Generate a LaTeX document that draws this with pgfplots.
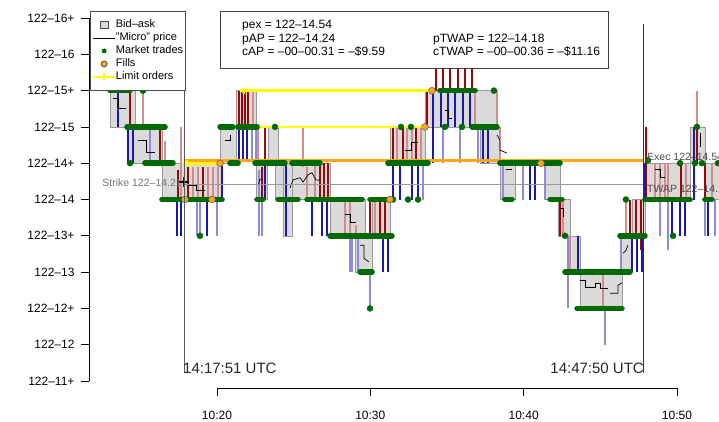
\documentclass[border=0pt]{standalone}
\usepackage{fontspec}
\setmainfont{Liberation Sans}
\usepackage{pgfplots}
\usepackage{pgfplotstable}
\pgfplotsset{compat=1.18}
\definecolor{dred}{RGB}{150,10,10}
\definecolor{lred}{RGB}{210,140,140}
\definecolor{dblue}{RGB}{25,25,170}
\definecolor{lblue}{RGB}{140,140,220}
\definecolor{dgreen}{RGB}{0,105,0}
\definecolor{boxgray}{RGB}{218,218,218}
\definecolor{lorange}{RGB}{255,168,20}
\definecolor{lyellow}{RGB}{255,255,0}

% red bars: time (min after 10:00), from, to (32nds above 122)
\pgfplotstableread{
x lo hi
14.33 15.0 15.5
16.28 14.5 15.0
17.46 14.0 14.40
18.11 14.0 14.45
19.09 14.0 14.45
21.43 15.0 15.5
21.63 15.0 15.5
21.82 15.0 15.5
22.02 15.0 15.5
22.93 14.0 14.45
23.13 14.5 14.98
26.72 14.0 14.5
26.98 14.0 14.5
27.24 14.0 14.5
29.98 13.5 14.0
30.63 13.5 14.0
30.96 13.5 14.0
31.48 14.5 15.0
32.13 14.5 15.0
32.98 14.5 15.0
33.69 15.0 15.5
34.28 15.5 16.0
34.74 15.5 16.0
35.20 15.5 16.0
35.72 15.5 16.0
36.17 15.5 16.0
36.63 15.5 16.0
42.37 13.5 14.0
46.93 13.5 14.0
47.32 13.5 14.0
47.65 13.3 14.0
47.98 14.0 15.0
50.26 14.0 14.5
51.30 14.5 15.0
51.82 14.0 14.5
}\tblDR
\pgfplotstableread{
x lo hi
15.17 15.0 15.5
16.61 14.5 14.8
17.65 14.0 15.0
18.43 14.0 14.45
18.76 14.0 14.45
19.41 14.0 14.45
19.74 14.0 14.45
20.07 14.0 14.45
22.35 15.0 15.5
22.67 14.5 15.0
25.61 14.45 14.98
25.87 14.0 14.45
26.39 14.0 14.5
28.35 13.5 14.0
28.67 13.5 14.0
29.07 13.45 13.65
30.30 13.5 14.0
31.74 14.5 15.0
32.39 14.5 15.0
32.72 14.5 15.0
33.30 14.5 15.0
36.83 15.0 15.5
38.26 15.0 15.5
38.45 14.5 15.0
42.56 13.5 14.0
43.02 13.0 13.5
45.17 12.5 13.0
46.67 13.5 14.0
48.56 14.0 14.5
48.89 14.0 14.5
49.22 14.0 14.5
49.41 14.0 14.5
50.59 14.0 14.5
51.30 15.0 15.5
52.28 14.0 14.5
}\tblLR
\pgfplotstableread{
x lo hi
13.54 15.0 15.48
14.19 14.5 15.0
14.52 14.5 15.0
17.39 13.5 14.0
17.65 13.5 14.0
19.35 13.5 14.0
20.33 14.0 14.5
21.43 14.55 15.0
21.69 14.55 15.0
21.95 14.55 15.0
23.13 14.0 14.5
24.50 13.5 14.5
26.19 13.5 14.0
26.85 13.5 14.0
27.17 13.5 14.0
30.82 13.0 13.5
31.15 13.0 13.5
31.48 14.0 14.5
31.93 14.0 14.5
32.72 14.0 14.5
33.11 14.0 14.5
34.08 14.5 15.5
34.61 15.0 15.5
35.06 15.0 15.5
35.52 15.0 15.5
36.04 15.0 15.5
36.50 15.0 15.5
37.35 14.5 15.0
37.67 14.5 15.0
40.41 14.0 14.5
40.74 14.0 14.5
43.54 13.0 13.5
47.07 13.0 13.5
47.39 13.0 13.5
47.72 13.0 13.5
47.91 14.0 14.5
49.67 13.5 14.0
50.20 13.5 14.0
50.52 13.5 14.0
51.11 14.0 15.0
52.02 13.5 14.0
}\tblDB
\pgfplotstableread{
x lo hi
15.63 14.5 15.0
18.69 13.5 14.0
18.89 13.5 14.0
20.00 13.5 14.0
22.28 14.55 15.0
22.54 14.55 15.0
22.74 13.5 14.4
22.93 13.5 14.0
28.67 13.0 13.5
28.80 13.0 13.5
29.20 13.0 13.5
29.98 12.5 13.0
33.43 14.0 14.5
34.74 14.5 15.0
35.85 14.5 15.0
37.02 14.5 15.0
38.65 14.0 14.5
39.96 14.0 14.5
41.39 14.0 14.5
42.89 12.5 13.5
45.30 12.0 12.5
46.35 13.0 13.5
48.89 13.5 14.0
49.41 13.3 14.0
51.82 13.5 14.5
52.48 13.5 14.0
}\tblLB
% runs of market trades: from, to, price
\pgfplotstableread{
x1 x2 y
13.02 14.33 15.5
14.13 16.61 15.0
15.30 17.13 14.5
16.41 20.33 14.0
20.20 21.04 15.0
21.37 22.61 15.0
20.85 21.37 14.5
22.48 24.43 14.5
24.89 26.72 14.5
22.61 23.00 14.0
23.98 25.28 14.0
25.87 29.46 14.0
29.98 31.28 14.0
27.37 31.41 13.5
29.33 30.11 13.0
31.15 33.76 14.5
34.54 36.83 15.5
36.63 38.26 15.0
38.45 42.37 14.5
38.78 39.24 14.0
41.72 42.50 14.0
42.70 46.93 13.0
43.48 46.41 12.5
46.28 47.91 13.5
47.91 50.85 14.0
51.82 52.28 14.0
}\tblRun
\pgfplotstableread{
x y
15.17 15.5
14.33 14.5
18.89 13.5
23.78 15.0
29.98 12.5
32.00 15.0
32.65 15.0
31.48 14.0
32.46 14.0
33.11 14.0
38.06 15.5
34.87 15.0
35.98 15.0
42.70 13.5
46.67 14.0
48.11 14.54
49.74 13.5
50.20 14.5
51.17 14.5
51.63 14.5
52.67 14.5
51.30 15.0
}\tblDot

\newcommand\bx[4]{\addplot[forget plot, fill=boxgray, draw=black!40, line width=0.5pt] coordinates {(#1,#3) (#2,#3) (#2,#4) (#1,#4) (#1,#3)};}
\pgfplotsset{
  vbar/.style 2 args={draw=none, mark=none, mark size=0pt, forget plot,
    error bars/.cd, y dir=plus, y explicit, error mark=none,
    error bar style={draw=#1, line width=#2}},
}

\begin{document}
\begin{tikzpicture}[x=1pt,y=1pt]
\begin{axis}[
  at={(0,0)}, anchor=south west,
  scale only axis, width=630pt, height=388pt,
  xmin=11.652, xmax=52.74, ymin=11.404, ymax=16.748,
  clip mode=individual,
  axis line style={draw=none},
  tick pos=left, tick align=outside,
  major tick length=8pt,
  tick style={black, line width=0.8pt},
  xtick={20,30,40,50}, xticklabels={10:20,10:30,10:40,10:50},
  ytick={11.5,12,12.5,13,13.5,14,14.5,15,15.5,16,16.5},
  yticklabels={122–11+,122–12,122–12+,122–13,122–13+,122–14,122–14+,122–15,122–15+,122–16,122–16+},
  yticklabel style={font=\fontsize{12}{14}\selectfont, xshift=-3pt},
  xticklabel style={font=\fontsize{12}{14}\selectfont, yshift=-12pt},
  legend image code/.code={\draw[mark repeat=2, mark phase=2, #1] plot coordinates {(0pt,0pt) (11pt,0pt) (22pt,0pt)};},
  legend style={at={(0.0016,0.9716)}, anchor=north west, draw=black!70, line width=0.8pt,
    font=\fontsize{11}{12}\selectfont, inner xsep=2pt, inner ysep=8pt,
    nodes={inner sep=0pt, text height=8.5pt, text depth=2.5pt}, row sep=2pt,
    /tikz/every even column/.append style={column sep=9pt}},
  legend cell align=left,
]
\addlegendimage{only marks, mark=square*, mark size=3.8pt, mark options={fill=boxgray, draw=black!70}}
\addlegendimage{black, line width=0.8pt}
\addlegendimage{only marks, mark=*, mark size=2pt, dgreen}
\addlegendimage{only marks, mark=*, mark size=3pt, mark options={fill=lorange, draw=black!70}}
\addlegendimage{lyellow, line width=1.5pt, mark=+, mark size=3.5pt}
\legend{Bid–ask,"Micro" price,Market trades,Fills,Limit orders}

% bid-ask boxes
\bx{13.02}{14.65}{15.0}{15.5}
\bx{14.13}{16.41}{14.5}{15.0}
\bx{16.41}{20.33}{14.0}{14.5}
\bx{20.20}{21.24}{14.5}{15.0}
\bx{21.24}{22.54}{15.0}{15.5}
\bx{22.54}{23.30}{14.0}{14.5}
\bx{23.32}{23.98}{14.5}{15.0}
\bx{23.80}{24.43}{14.0}{14.5}
\bx{24.30}{24.89}{13.5}{14.5}
\bx{24.89}{27.37}{14.0}{14.5}
\bx{27.37}{29.65}{13.5}{14.0}
\bx{29.00}{30.11}{13.0}{13.5}
\bx{30.11}{31.28}{13.5}{14.0}
\bx{31.28}{33.56}{14.5}{15.0}
\bx{33.56}{34.08}{15.0}{15.5}
\bx{34.08}{36.83}{15.0}{15.5}
\bx{36.83}{38.26}{15.0}{15.5}
\bx{37.15}{38.45}{14.5}{15.0}
\bx{38.45}{39.43}{14.0}{14.5}
\bx{41.39}{42.37}{14.0}{14.5}
\bx{42.24}{43.02}{13.5}{14.0}
\bx{42.82}{43.67}{13.0}{13.5}
\bx{43.67}{46.41}{12.5}{13.0}
\bx{46.28}{47.07}{13.0}{13.5}
\bx{47.07}{47.91}{13.5}{14.0}
\bx{47.91}{50.85}{14.0}{14.5}
\bx{50.85}{51.82}{14.5}{15.0}
\bx{51.82}{52.74}{14.0}{14.5}

% bid / ask size bars
\addplot[vbar={lred}{1.6pt}] table[x=x, y=lo, y error plus expr=\thisrow{hi}-\thisrow{lo}] {\tblLR};
\addplot[vbar={lblue}{1.6pt}] table[x=x, y=lo, y error plus expr=\thisrow{hi}-\thisrow{lo}] {\tblLB};
\addplot[vbar={dred}{2.4pt}] table[x=x, y=lo, y error plus expr=\thisrow{hi}-\thisrow{lo}] {\tblDR};
\addplot[vbar={dblue}{2.4pt}] table[x=x, y=lo, y error plus expr=\thisrow{hi}-\thisrow{lo}] {\tblDB};

% "micro" price
\addplot[forget plot, black, line width=0.7pt] coordinates {(13.22,15.40) (13.54,15.40) (13.54,15.26) (14.06,15.26)};
\addplot[forget plot, black, line width=0.7pt] coordinates {(14.85,14.82) (15.37,14.82) (15.37,14.65) (15.95,14.65)};
\addplot[forget plot, black, line width=0.7pt] coordinates {(18.11,14.20) (18.63,14.20) (18.63,14.13) (19.22,14.13)};
\addplot[forget plot, black, line width=0.7pt] coordinates {(20.52,14.82) (20.85,14.82) (20.85,14.89)};
\addplot[forget plot, black, line width=0.7pt] coordinates {(22.70,14.20) (22.80,14.28) (22.95,14.28)};
\addplot[forget plot, black, line width=0.7pt] coordinates {(24.76,14.16) (24.96,14.27) (25.41,14.30) (25.61,14.24) (25.93,14.34) (26.19,14.37) (26.45,14.27) (26.72,14.27)};
\addplot[forget plot, black, line width=0.7pt] coordinates {(28.35,13.79) (28.67,13.79) (28.67,13.69) (29.07,13.69)};
\addplot[forget plot, black, line width=0.7pt] coordinates {(29.33,13.37) (29.59,13.37) (29.59,13.19) (29.91,13.14)};
\addplot[forget plot, black, line width=0.7pt] coordinates {(32.26,14.68) (32.65,14.68) (32.65,14.79) (33.11,14.79)};
\addplot[forget plot, black, line width=0.7pt] coordinates {(34.87,15.23) (35.06,15.23) (35.06,15.12) (35.32,15.12)};
\addplot[forget plot, black, line width=0.7pt] coordinates {(38.26,14.89) (38.45,14.82) (38.45,14.68) (38.91,14.64)};
\addplot[forget plot, black, line width=0.7pt] coordinates {(38.85,14.41) (39.24,14.41)};
\addplot[forget plot, black, line width=0.7pt] coordinates {(42.37,13.88) (42.56,13.88) (42.56,13.76)};
\addplot[forget plot, black, line width=0.7pt] coordinates {(43.67,12.89) (44.00,12.89) (44.00,12.79) (44.65,12.79) (44.65,12.85) (44.98,12.85) (44.98,12.77) (45.50,12.77)};
\addplot[forget plot, black, line width=0.7pt] coordinates {(45.63,12.71) (46.15,12.71) (46.15,12.82) (46.41,12.85)};
\addplot[forget plot, black, line width=0.7pt] coordinates {(46.48,13.26) (46.67,13.30) (46.80,13.37)};
\addplot[forget plot, black, line width=0.7pt] coordinates {(48.56,14.41) (48.89,14.41) (48.89,14.30) (49.22,14.30)};
\addplot[forget plot, black, line width=0.7pt] coordinates {(51.50,14.92) (51.50,14.72)};

% strike and execution price lines
\addplot[forget plot, black!40, line width=0.7pt] coordinates {(17.85,14.21) (47.833,14.21)};
\addplot[forget plot, lorange, line width=3pt] coordinates {(17.85,14.54) (47.833,14.54)};
% limit orders
\addplot[forget plot, lyellow, line width=2.6pt] coordinates {(17.85,14.5) (20.20,14.5)};
\addplot[forget plot, lyellow, line width=2.6pt] coordinates {(21.63,15.5) (34.02,15.5)};
\addplot[forget plot, lyellow, line width=2.6pt] coordinates {(22.60,15.0) (33.56,15.0)};
\addplot[forget plot, lyellow, line width=2.6pt] coordinates {(30.70,14.0) (31.28,14.0)};
\addplot[forget plot, only marks, mark=triangle*, mark size=3.5pt, mark options={rotate=90, fill=lyellow, draw=lyellow}] coordinates {(17.95,14.5) (21.70,15.5) (22.67,15.0) (30.75,14.0)};

% market trades
\addplot[forget plot, draw=none, mark=none, mark size=0pt, error bars/.cd, x dir=plus, x explicit, error mark=none,
  error bar style={draw=dgreen, line width=5.6pt, line cap=round}]
  table[x=x1, y=y, x error plus expr=\thisrow{x2}-\thisrow{x1}] {\tblRun};
\addplot[forget plot, only marks, mark=*, mark size=3pt, dgreen] table[x=x, y=y] {\tblDot};

% fills
\addplot[forget plot, only marks, mark=*, mark size=3.4pt, mark options={fill=lorange, draw=black!60, line width=0.6pt}]
  coordinates {(20.20,14.5) (17.91,14.0) (19.67,14.0) (31.28,14.0) (33.56,15.0) (34.02,15.5) (41.13,14.5)};
% arrival
\addplot[forget plot, only marks, mark=+, mark size=5pt, mark options={line width=1.6pt, black}] coordinates {(17.85,14.24)};

% start / end of order
\addplot[forget plot, black!65, line width=1pt] coordinates {(17.85,11.61) (17.85,16.42)};
\addplot[forget plot, black!80, line width=1pt] coordinates {(47.833,11.61) (47.833,16.42)};
\end{axis}

% axis lines
\draw[black, line width=0.8pt] (0,7) -- (0,370);
\draw[black, line width=0.8pt] (128,0) -- (588,0);

% labels
\node[anchor=base west, inner sep=0pt, text=black!85, font=\fontsize{15}{17}\selectfont] at (94,15) {14:17:51 UTC};
\node[anchor=base east, inner sep=0pt, text=black!85, font=\fontsize{15}{17}\selectfont] at (555,15) {14:47:50 UTC};
\node[anchor=base east, inner sep=0pt, text=black!55, font=\fontsize{10.5}{12}\selectfont] at (93,202) {Strike 122–14.21};
\node[anchor=base west, inner sep=0pt, text=black!70, font=\fontsize{10.5}{12}\selectfont] at (558,228) {Exec 122–14.54};
\node[anchor=base west, inner sep=0pt, text=black!70, font=\fontsize{10.5}{12}\selectfont] at (558,196) {TWAP 122–14.18};

% summary box
\draw[black!75, fill=white, line width=0.8pt] (131,377) rectangle (519,320);
\begin{scope}[every node/.style={anchor=base west, inner sep=0pt, font=\fontsize{12}{14}\selectfont}]
\node at (153,359) {pex = 122–14.54};
\node at (153,345) {pAP = 122–14.24};
\node at (153,332) {cAP = –00–00.31 = –\$9.59};
\node at (344,345) {pTWAP = 122–14.18};
\node at (344,332) {cTWAP = –00–00.36 = –\$11.16};
\end{scope}

\pgfresetboundingbox
\useasboundingbox (-89,-33) rectangle (630,388);
\end{tikzpicture}
\end{document}
